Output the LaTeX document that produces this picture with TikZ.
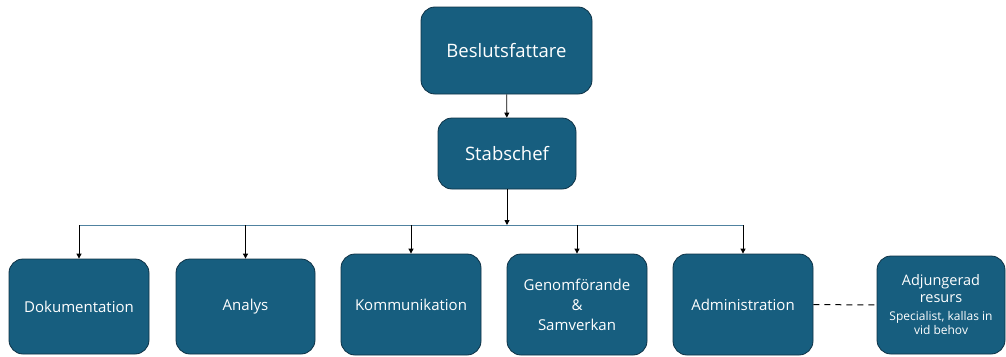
\documentclass[tikz,border=0pt]{standalone}
\usepackage{fontspec}
\setmainfont{Open Sans}
\usetikzlibrary{arrows.meta}
\definecolor{boxfill}{RGB}{23,94,127}
\definecolor{boxline}{RGB}{14,50,70}
\definecolor{buscol}{RGB}{80,130,160}
\begin{document}
\begin{tikzpicture}[x=1pt,y=-1pt,
  box/.style={draw=boxline, fill=boxfill, rounded corners=14pt, line width=0.8pt,
    text=white, align=center, inner sep=0pt, font=\fontsize{15}{20}\selectfont},
  bigtext/.style={font=\fontsize{18.5}{22}\selectfont},
  conn/.style={draw=black, line width=0.9pt, -{Triangle[length=5pt,width=5pt]}},
  bus/.style={draw=buscol, line width=1pt},
  dashconn/.style={draw=black, line width=1pt, dash pattern=on 6pt off 5pt}]
\useasboundingbox (0,0) rectangle (1006,356);
\node[box, bigtext, minimum width=171pt, minimum height=87pt] (bes) at (506.5,50.5) {Beslutsfattare};
\node[box, bigtext, minimum width=138pt, minimum height=71pt] (stab) at (507,153.5) {Stabschef};
\node[box, minimum width=140pt, minimum height=95pt] (dok) at (79,306.5) {Dokumentation};
\node[box, minimum width=139pt, minimum height=95pt] (ana) at (245.5,306.5) {Analys};
\node[box, minimum width=140pt, minimum height=101pt] (kom) at (411,304.5) {Kommunikation};
\node[box, minimum width=140pt, minimum height=101pt] (gen) at (577,304.5) {Genomförande\\\&\\Samverkan};
\node[box, minimum width=128pt, minimum height=98pt, font=\fontsize{14.5}{17}\selectfont] (adj) at (941,305)
  {Adjungerad\\resurs\\[1pt]{\fontsize{12}{13}\selectfont Specialist, kallas in}\\[-3pt]{\fontsize{12}{13}\selectfont vid behov}};
\node[box, minimum width=140pt, minimum height=101pt] (adm) at (743,304.5) {Administration};
\coordinate (busL) at (79,225);
\coordinate (busR) at (743,225);
\coordinate (busM) at (507,225);
\draw[bus] (busL) -- (busR);
\draw[conn] (bes) -- (stab);
\draw[conn] (stab) -- (busM);
\foreach \n in {dok,ana,kom,gen,adm}{
  \draw[conn] (\n.north |- busL) -- (\n.north);
}
\draw[dashconn] (adm) -- (adj);
\end{tikzpicture}
\end{document}
